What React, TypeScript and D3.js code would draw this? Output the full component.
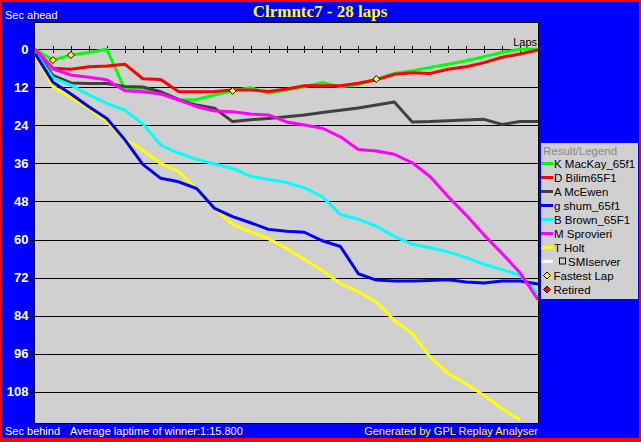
import React from 'react';
import * as d3 from 'd3';

const W = 641;
const H = 442;

const title = 'Clrmntc7 - 28 laps';
const yTicks = [0, 12, 24, 36, 48, 60, 72, 84, 96, 108];
const lapNumbers = [0, 1, 2, 3, 4, 5, 6, 7, 8, 9, 10, 11, 12, 13, 14, 15, 16, 17, 18, 19, 20, 21, 22, 23, 24, 25, 26, 27, 28];

const mackay = [0, 3.4, 1.8, 1.0, 0, 12.6, 12.4, 13.4, 15.9, 15.8, 14.4, 13.1, 12.1, 13.9, 12.8, 11.8, 10.5, 11.8, 11.1, 9.4, 7.6, 6.8, 5.7, 4.7, 3.6, 2.3, 1.0, 0, 0];
const bilim = [0, 6.0, 6.3, 5.5, 5.3, 4.7, 9.3, 9.5, 13.4, 13.4, 13.3, 12.8, 12.8, 13.3, 12.5, 11.5, 11.5, 11.5, 10.7, 9.6, 7.9, 7.4, 7.6, 6.3, 5.5, 4.2, 2.5, 1.5, 0.2];
const mcewen = [0.5, 8.2, 10.6, 10.8, 10.8, 11.7, 11.9, 13.4, 15.9, 17.6, 18.6, 22.8, 22.2, 21.8, 21.3, 20.7, 19.9, 19.2, 18.5, 17.6, 16.6, 22.9, 22.8, 22.5, 22.3, 22.1, 23.7, 22.8, 22.8];
const shum = [1.3, 10.4, 14.1, 18.1, 21.8, 28.5, 36.3, 40.7, 41.8, 43.9, 50.2, 52.8, 54.7, 56.8, 57.4, 57.7, 60.4, 62.2, 70.8, 72.8, 73.1, 73.1, 72.9, 72.7, 73.4, 73.7, 73.1, 73.1, 74.0];
const brown = [1.0, 9.0, 11.3, 14.4, 17.1, 19.2, 23.5, 30.2, 32.8, 34.7, 36.2, 37.6, 40.0, 41.1, 42.0, 43.7, 46.5, 52.1, 53.6, 55.8, 59.0, 61.5, 62.6, 63.9, 65.7, 67.8, 69.5, 71.3, 77.0];
const sprovieri = [0, 6.2, 8.1, 8.8, 9.6, 13.1, 13.4, 14.1, 16.0, 18.1, 19.5, 19.7, 20.4, 20.7, 22.9, 23.9, 24.9, 27.6, 31.6, 32.1, 33.1, 35.8, 40.2, 46.5, 52.3, 58.6, 64.4, 70.5, 79.0];
const holt = [1.5, 11.8, 15.2, 18.7, 22.8, 28.3, 31.8, 36.0, 38.6, 43.9, 50.2, 55.2, 57.6, 59.7, 62.8, 66.3, 69.8, 73.9, 76.5, 79.7, 85.5, 89.7, 97.1, 102.3, 105.5, 109.2, 113.4, 116.8];

const fastestLaps = [1, 2, 11, 19];

const drivers = [
  { name: 'K MacKay_65f1', color: '#00ff00', values: mackay },
  { name: 'D Bilim65F1', color: '#ff0000', values: bilim },
  { name: 'A McEwen', color: '#404040', values: mcewen },
  { name: 'g shum_65f1', color: '#0000ff', values: shum },
  { name: 'B Brown_65F1', color: '#00ffff', values: brown },
  { name: 'M Sprovieri', color: '#ff00ff', values: sprovieri },
  { name: 'T Holt', color: '#ffff00', values: holt },
];

const drawOrder = [0, 1, 2, 4, 6, 3, 5];

const SANS = '"Liberation Sans", Arial, sans-serif';

export default function App() {
  const plotL = 34.5;
  const plotT = 22.5;
  const plotR = 538.5;
  const plotB = 423.5;

  const x = d3.scaleLinear().domain([0, 28]).range([35, 538]);
  const y = d3.scaleLinear().domain([0, 108]).range([49.3, 391.7]);

  const line = d3
    .line<number>()
    .x((_, i) => x(lapNumbers[i]))
    .y((d) => y(d));

  const diamond = (cx: number, cy: number, r: number) =>
    `M${cx},${cy - r}L${cx + r},${cy}L${cx},${cy + r}L${cx - r},${cy}Z`;

  const legX = 541;
  const legTop = 143;
  const rowY = (i: number) => 163.5 + i * 14;

  return (
    <svg
      width={W}
      height={H}
      style={{ position: 'absolute', left: 0, top: 0, display: 'block' }}
      fontFamily={SANS}
    >
      <defs>
        <clipPath id="plotClip">
          <rect x={plotL} y={plotT} width={plotR - plotL} height={plotB - plotT} />
        </clipPath>
      </defs>
      <rect x={0} y={0} width={W} height={H} fill="#ff0000" />
      <rect x={2} y={2} width={W - 4} height={H - 6} fill="#0000ff" />

      {/* plot area */}
      <rect x={plotL} y={plotT} width={plotR - plotL} height={plotB - plotT} fill="#d0d0d0" stroke="#000" strokeWidth={1} />

      {/* grid lines */}
      {yTicks.map((t) => (
        <line
          key={'g' + t}
          x1={t === 0 ? plotL : 30}
          x2={plotR}
          y1={Math.round(y(t)) + 0.5}
          y2={Math.round(y(t)) + 0.5}
          stroke="#000"
          strokeWidth={1}
        />
      ))}
      {lapNumbers.slice(1, 28).map((l) => (
        <line
          key={'t' + l}
          x1={Math.round(x(l)) + 0.5}
          x2={Math.round(x(l)) + 0.5}
          y1={Math.round(y(0)) - 3}
          y2={Math.round(y(0)) + 4}
          stroke="#000"
          strokeWidth={1}
        />
      ))}
      {yTicks.map((t) => (
        <text
          key={'l' + t}
          x={28.5}
          y={y(t) + 4.7}
          textAnchor="end"
          fill="#fff"
          fontWeight="bold"
          fontSize={13}
        >
          {t}
        </text>
      ))}
      <text x={537} y={46} textAnchor="end" fontSize={11} fill="#000">
        Laps
      </text>

      {/* series */}
      <g clipPath="url(#plotClip)">
        {drawOrder.map((i) => (
          <path
            key={drivers[i].name}
            d={line(drivers[i].values) || ''}
            fill="none"
            stroke={drivers[i].color}
            strokeWidth={3}
            strokeLinejoin="round"
          />
        ))}
        {fastestLaps.map((l) => (
          <path
            key={'f' + l}
            d={diamond(x(l), y(mackay[l]), 3.5)}
            fill="#ffff00"
            stroke="#000"
            strokeWidth={1}
          />
        ))}
      </g>

      {/* titles */}
      <text
        x={320}
        y={17}
        textAnchor="middle"
        fill="#ffff00"
        fontFamily='"Liberation Serif", "Times New Roman", serif'
        fontWeight="bold"
        fontSize={17}
      >
        {title}
      </text>
      <text x={5} y={19} fill="#fff" fontSize={11}>
        Sec ahead
      </text>
      <text x={5} y={435} fill="#fff" fontSize={11}>
        Sec behind
      </text>
      <text x={70} y={435} fill="#fff" fontSize={11}>
        Average laptime of winner:1:15.800
      </text>
      <text x={538} y={435} textAnchor="end" fill="#ffff00" fontSize={11}>
        Generated by GPL Replay Analyser
      </text>

      {/* legend */}
      <rect x={legX} y={legTop} width={638 - legX} height={299 - legTop} fill="#d0d0d0" />
      <text x={543} y={155} fill="#888888" fontSize={11.5}>
        Result/Legend
      </text>
      {drivers.map((d, i) => (
        <g key={'leg' + d.name}>
          <line x1={541} x2={553} y1={rowY(i)} y2={rowY(i)} stroke={d.color} strokeWidth={3} />
          <text x={554} y={rowY(i) + 4.2} fontSize={11.5} fill="#000">
            {d.name}
          </text>
        </g>
      ))}
      <g>
        <line x1={541} x2={553} y1={rowY(7)} y2={rowY(7)} stroke="#ffffff" strokeWidth={3} />
        <rect x={559.5} y={rowY(7) - 3.5} width={6} height={6} fill="none" stroke="#000" strokeWidth={1} />
        <text x={568} y={rowY(7) + 4.2} fontSize={11.5} fill="#000">
          SMIserver
        </text>
      </g>
      <g>
        <path d={diamond(547, rowY(8), 3.5)} fill="#ffff00" stroke="#000" strokeWidth={1} />
        <text x={553.5} y={rowY(8) + 4.2} fontSize={11.5} fill="#000">
          Fastest Lap
        </text>
      </g>
      <g>
        <path d={diamond(547, rowY(9), 3.5)} fill="#ff0000" stroke="#000" strokeWidth={1} />
        <text x={553.5} y={rowY(9) + 4.2} fontSize={11.5} fill="#000">
          Retired
        </text>
      </g>
    </svg>
  );
}
